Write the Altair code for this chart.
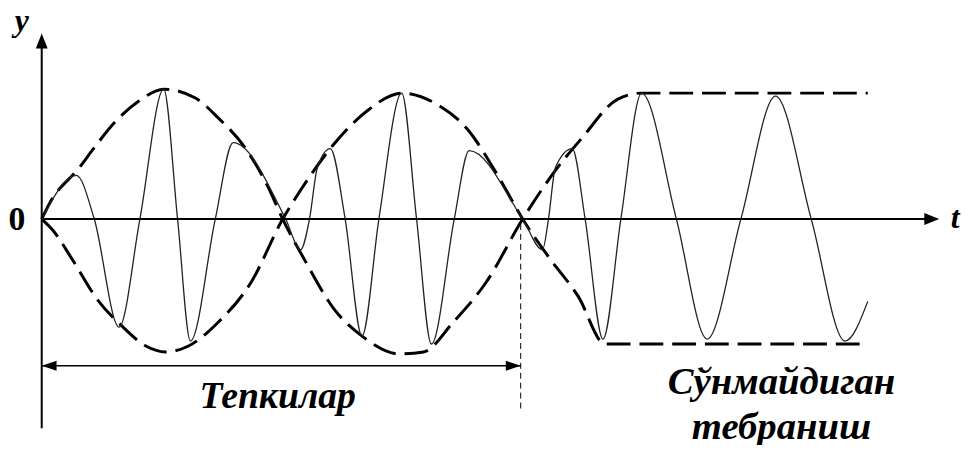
import altair as alt
import pandas as pd

# ---- oscillation y(t) (extrema and zero crossings) ----
wave_t = [42, 77, 95, 120, 141, 165, 179, 192, 217, 235, 288, 303, 312, 320, 333,
          348, 365, 382, 405, 420, 435, 458, 473, 527, 547, 553, 560, 577, 590,
          608, 626, 647, 682, 713, 747, 782, 818, 852, 875]
wave_y = [0, 44, 0, -109, 0, 131, 0, -123, 0, 77, 0, -31, 0, 52, 71,
          0, -118, 0, 127, 0, -126, 0, 69, 0, -31, 0, 52, 71, 0,
          -121, 0, 127, 0, -121, 0, 124, 0, -123, -83]

# ---- dashed envelopes ----
env_a_t = [42, 50, 80, 95, 117, 140, 165, 197, 220, 247, 270, 285, 307, 337, 365,
           403, 427, 457, 490, 527, 560, 587, 623, 647, 875]
env_a_y = [0, 16, 52, 72, 99, 119, 131, 122, 102, 72, 33, 0, -41, -91, -118,
           -136, -134, -104, -64, 0, 49, 82, 121, 127, 127]
env_b_t = [42, 53, 73, 98, 123, 147, 167, 190, 220, 253, 285, 303, 337, 370, 405,
           440, 470, 503, 527, 553, 583, 610, 875]
env_b_y = [0, -11, -41, -81, -108, -128, -134, -128, -104, -64, 0, 29, 76, 109, 127,
           116, 92, 42, 0, -38, -78, -126, -126]

# ---- axes and annotation anchors (in t / y units) ----
origin_t = 42
t_axis_tip = 947
t_axis_line_end = 935
y_axis_tip = 187
y_axis_line_end = 175
y_axis_bottom = -211
beats_end = 525
beats_arrow_y = -148
beats_marker_bottom = -191

axis_labels = ["y", "t"]
axis_label_t = [22, 963]
axis_label_y = [190, -9]
zero_label = ["0"]
zero_label_t = [17]
zero_label_y = [-11]
beats_caption = ["Тепкилар"]
beats_caption_t = [280]
beats_caption_y = [-191]
steady_caption = ["Сўнмайдиган", "тебраниш"]
steady_caption_t = [788, 788]
steady_caption_y = [-176, -222]

xs = alt.Scale(domain=[8, 969], nice=False, zero=False)
ys = alt.Scale(domain=[-226, 211], nice=False, zero=False)
X = lambda f="t": alt.X(f"{f}:Q", scale=xs, axis=None)
Y = lambda f="y": alt.Y(f"{f}:Q", scale=ys, axis=None)

wave = alt.Chart(pd.DataFrame({"t": wave_t, "y": wave_y})).mark_line(
    interpolate="monotone", color="#222222", strokeWidth=1.3
).encode(x=X(), y=Y())

env_a = alt.Chart(pd.DataFrame({"t": env_a_t, "y": env_a_y})).mark_line(
    interpolate="monotone", color="black", strokeWidth=3, strokeDash=[24, 9]
).encode(x=X(), y=Y())
env_b = alt.Chart(pd.DataFrame({"t": env_b_t, "y": env_b_y})).mark_line(
    interpolate="monotone", color="black", strokeWidth=3, strokeDash=[24, 9]
).encode(x=X(), y=Y())

t_axis = alt.Chart(pd.DataFrame({"t": [origin_t], "t2": [t_axis_line_end], "y": [0]})).mark_rule(
    color="black", strokeWidth=2
).encode(x=X(), x2="t2:Q", y=Y())
y_axis = alt.Chart(pd.DataFrame({"t": [origin_t], "y": [y_axis_bottom], "y2": [y_axis_line_end]})).mark_rule(
    color="black", strokeWidth=2
).encode(x=X(), y=Y(), y2="y2:Q")

beats_line = alt.Chart(pd.DataFrame({"t": [origin_t], "t2": [beats_end], "y": [beats_arrow_y]})).mark_rule(
    color="black", strokeWidth=1.5
).encode(x=X(), x2="t2:Q", y=Y())
beats_marker = alt.Chart(pd.DataFrame({"t": [beats_end], "y": [beats_marker_bottom], "y2": [0]})).mark_rule(
    color="black", strokeWidth=1, strokeDash=[6, 4]
).encode(x=X(), y=Y(), y2="y2:Q")

right_head = "M0,0L-2,-0.8L-2,0.8Z"
up_head = "M0,0L-0.8,2L0.8,2Z"
right_small = "M0,0L-2,-0.67L-2,0.67Z"
left_small = "M0,0L2,-0.67L2,0.67Z"

def head(t, y, shape):
    return alt.Chart(pd.DataFrame({"t": [t], "y": [y]})).mark_point(
        shape=shape, size=225, filled=True, color="black", opacity=1, strokeWidth=0
    ).encode(x=X(), y=Y())

heads = [
    head(t_axis_tip, 0, right_head),
    head(origin_t, y_axis_tip, up_head),
    head(beats_end, beats_arrow_y, right_small),
    head(origin_t, beats_arrow_y, left_small),
]

def text_layer(ts, yv, labels, size, italic=True):
    kw = dict(font="Liberation Serif", fontWeight="bold", fontSize=size,
              align="center", baseline="alphabetic", color="black")
    if italic:
        kw["fontStyle"] = "italic"
    return alt.Chart(pd.DataFrame({"t": ts, "y": yv, "label": labels})).mark_text(**kw).encode(
        x=X(), y=Y(), text="label:N")

axis_text = text_layer(axis_label_t, axis_label_y, axis_labels, 32)
zero_text = text_layer(zero_label_t, zero_label_y, zero_label, 34, italic=False)
beats_text = text_layer(beats_caption_t, beats_caption_y, beats_caption, 38)
steady_text = text_layer(steady_caption_t, steady_caption_y, steady_caption, 39)

chart = alt.layer(
    env_a, env_b, wave, t_axis, y_axis, beats_line, beats_marker, *heads,
    axis_text, zero_text, beats_text, steady_text
).properties(
    width=961, height=437, padding=0,
    autosize=alt.AutoSizeParams(type="none"),
    background="white",
).configure_view(strokeWidth=0)

chart.save("out.html", embed_options={"renderer": "svg", "actions": False})
